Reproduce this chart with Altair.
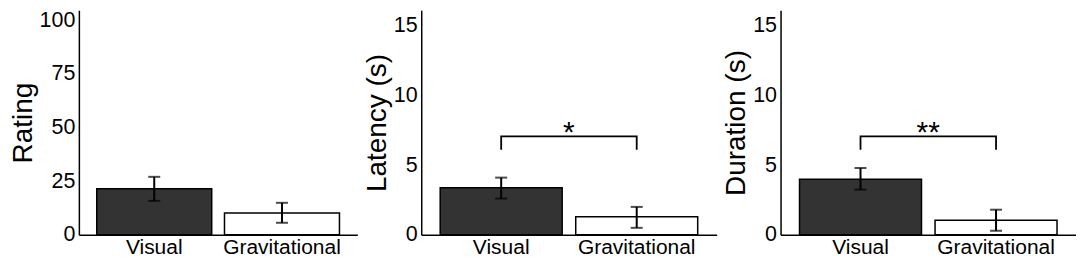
import altair as alt
import pandas as pd

categories = ["Visual", "Gravitational"]
bar_colors = ["#333333", "#ffffff"]

rating_mean = [21.4, 10.2]
rating_upper = [27.0, 14.9]
rating_lower = [15.8, 5.6]

latency_mean = [3.38, 1.29]
latency_upper = [4.1, 2.0]
latency_lower = [2.6, 0.5]

duration_mean = [3.98, 1.05]
duration_upper = [4.79, 1.8]
duration_lower = [3.24, 0.29]

bracket_x = ["Visual", "Visual", "Gravitational", "Gravitational"]
bracket_y = [6.1, 7.05, 7.05, 6.1]
bracket_order = [0, 1, 2, 3]

FONT = "Liberation Sans"
H = 225


def panel(title, mean, lower, upper, domain_max, ticks, width, star=None):
    df = pd.DataFrame({"cond": categories, "mean": mean, "lo": lower, "hi": upper})
    xenc = alt.X("cond:N", scale=alt.Scale(type="band", domain=categories,
                                            paddingInner=0.1, paddingOuter=0.14),
                 axis=alt.Axis(title=None, labelAngle=0, ticks=False, tickSize=0,
                               labelFontSize=21, labelPadding=2, labelColor="black",
                               domainColor="black", domainWidth=1.5, labelFont=FONT))
    yscale = alt.Scale(domain=[0, domain_max], nice=False, zero=True)
    yaxis = alt.Axis(title=title, values=ticks, grid=False, ticks=False, tickSize=0,
                     labelFontSize=21.5, labelPadding=4, labelColor="black", labelFont=FONT,
                     domainColor="black", domainWidth=1.5,
                     titleFontSize=28, titleFontWeight="normal", titleColor="black",
                     titleFont=FONT, titlePadding=2)
    base = alt.Chart(df)
    bars = base.mark_bar(stroke="black", strokeWidth=1.5).encode(
        x=xenc,
        y=alt.Y("mean:Q", scale=yscale, axis=yaxis),
        fill=alt.Fill("cond:N", scale=alt.Scale(domain=categories, range=bar_colors), legend=None),
    )
    err = base.mark_rule(color="black", strokeWidth=2).encode(
        x=xenc, y=alt.Y("lo:Q", scale=yscale), y2="hi:Q")
    cap_lo = base.mark_tick(color="black", size=12, thickness=2, orient="horizontal").encode(
        x=xenc, y=alt.Y("lo:Q", scale=yscale))
    cap_hi = base.mark_tick(color="black", size=12, thickness=2, orient="horizontal").encode(
        x=xenc, y=alt.Y("hi:Q", scale=yscale))
    layers = [bars, err, cap_lo, cap_hi]
    if star is not None:
        bdf = pd.DataFrame({"cond": bracket_x, "v": bracket_y, "o": bracket_order})
        br = alt.Chart(bdf).mark_line(color="black", strokeWidth=1.8).encode(
            x=xenc, y=alt.Y("v:Q", scale=yscale), order="o:Q")
        sdf = pd.DataFrame({"label": [star], "v": [max(bracket_y)]})
        st = alt.Chart(sdf).mark_text(fontSize=30, font=FONT, color="black",
                                      baseline="alphabetic", align="center", dy=6).encode(
            x=alt.value(width / 2), y=alt.Y("v:Q", scale=yscale), text="label:N")
        layers += [br, st]
    return alt.layer(*layers).properties(width=width, height=H)


p1 = panel("Rating", rating_mean, rating_lower, rating_upper, 104.6, [0, 25, 50, 75, 100], 279)
p2 = panel("Latency (s)", latency_mean, latency_lower, latency_upper, 16.1, [0, 5, 10, 15], 296, "*")
p3 = panel("Duration (s)", duration_mean, duration_lower, duration_upper, 16.1, [0, 5, 10, 15], 296, "**")

chart = alt.hconcat(p1, p2, p3, spacing=64, bounds="flush").properties(
    padding={"left": 1, "top": 0, "right": 0, "bottom": 0},
    background="white",
).configure_view(strokeWidth=0, stroke=None)

chart.save("out.html", embed_options={"renderer": "svg", "actions": False})
